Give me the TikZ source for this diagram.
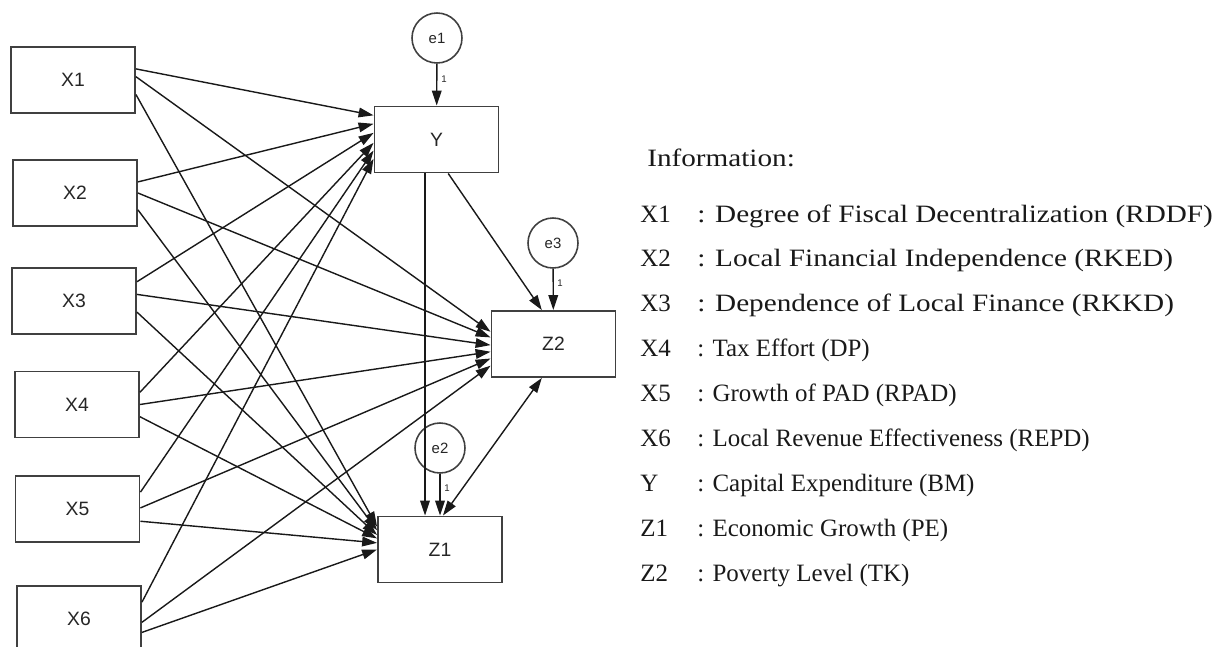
\documentclass[tikz,border=0pt]{standalone}
\usepackage{fontspec}
\setmainfont{Liberation Serif}
\newfontfamily\boxfont{Liberation Sans}
\usetikzlibrary{arrows.meta}

\begin{document}
\begin{tikzpicture}[x=0.02cm, y=-0.02cm,
    var/.style={draw=black!75, line width=1.1pt, minimum width=2.48cm, minimum height=1.32cm,
        inner sep=0pt, text=black!85, font=\boxfont\fontsize{11}{13}\selectfont},
    err/.style={draw=black!75, line width=0.9pt, circle, minimum size=1cm, inner sep=0pt,
        text=black!85, font=\boxfont\fontsize{8.5}{9}\selectfont},
    arr/.style={draw=black!90, line width=0.8pt, -{Triangle[length=8.5pt,width=5.5pt]}},
    one/.style={inner sep=0pt, text=black!85, font=\boxfont\fontsize{5.5}{6}\selectfont},
    legend/.style={anchor=base west, inner sep=0pt, text=black!90, font=\fontsize{14.2}{16}\selectfont},
    wide/.style={font=\fontsize{14.2}{16}\selectfont\addfontfeature{FakeStretch=1.17}}]
    \useasboundingbox (0,0) rectangle (1219,646);

    % exogenous variables
    \node[var] (X1) at (73,80) {X1};
    \node[var] (X2) at (75,193) {X2};
    \node[var] (X3) at (74,301) {X3};
    \node[var] (X4) at (77,404.5) {X4};
    \node[var] (X5) at (77.5,509) {X5};
    \node[var] (X6) at (79,619) {X6};

    % endogenous variables and errors
    \node[var] (Y) at (436.5,139.5) {Y};
    \node[var] (Z2) at (553.5,344) {Z2};
    \node[var] (Z1) at (440,549.5) {Z1};
    \node[err] (e1) at (437,38) {e1};
    \node[err] (e3) at (553,243) {e3};
    \node[err] (e2) at (440,448) {e2};

    % X -> Y, Z2, Z1 (anchor angles on each side)
    \foreach \i/\sa/\sb/\sc/\ta/\tb/\tc in {1/10/3/347/159/169/160,
        2/10/0/345/166/174/163, 3/17/6/350/174/181/167, 4/11/0/349/183/187/170,
        5/15/1/349/190/193/174, 6/15/357/348/197/199/180}
    {
        \draw[arr] (X\i.\sa) -- (Y.\ta);
        \draw[arr] (X\i.\sb) -- (Z2.\tb);
        \draw[arr] (X\i.\sc) -- (Z1.\tc);
    }

    \draw[arr] ([xshift=-0.23cm]Y.south) -- ([xshift=-0.23cm]Y.south |- Z1.north);
    \draw[arr] (Y.289) -- (Z2.109);
    \draw[arr, {Triangle[length=8.5pt,width=5.5pt]}-{Triangle[length=8.5pt,width=5.5pt]}] (Z1.85) -- (Z2.251);

    % error terms, weights fixed to 1
    \draw[arr] (e1) -- (Y);
    \draw[arr] (e3) -- (Z2);
    \draw[arr] (e2) -- (Z1);
    \node[one] (w1) at (444,79) {1};
    \node[one] (w3) at (560,283) {1};
    \node[one] (w2) at (447,488) {1};

    % legend
    \node[legend, wide] (info) at (647,166) {Information:};
    \foreach \k/\desc [count=\n from 0] in {X1/Degree of Fiscal Decentralization (RDDF),
        X2/Local Financial Independence (RKED), X3/Dependence of Local Finance (RKKD),
        X4/Tax Effort (DP), X5/Growth of PAD (RPAD), X6/Local Revenue Effectiveness (REPD),
        Y/Capital Expenditure (BM), Z1/Economic Growth (PE), Z2/Poverty Level (TK)}
    {
        \node[legend] (lab\k) at (640,{222+44.9*\n}) {\k};
        \ifnum\n<3
            \node[legend, wide] (desc\k) at (697,{222+44.9*\n}) {: \desc};
        \else
            \node[legend] (desc\k) at (697,{222+44.9*\n}) {: \desc};
        \fi
    }
\end{tikzpicture}
\end{document}
